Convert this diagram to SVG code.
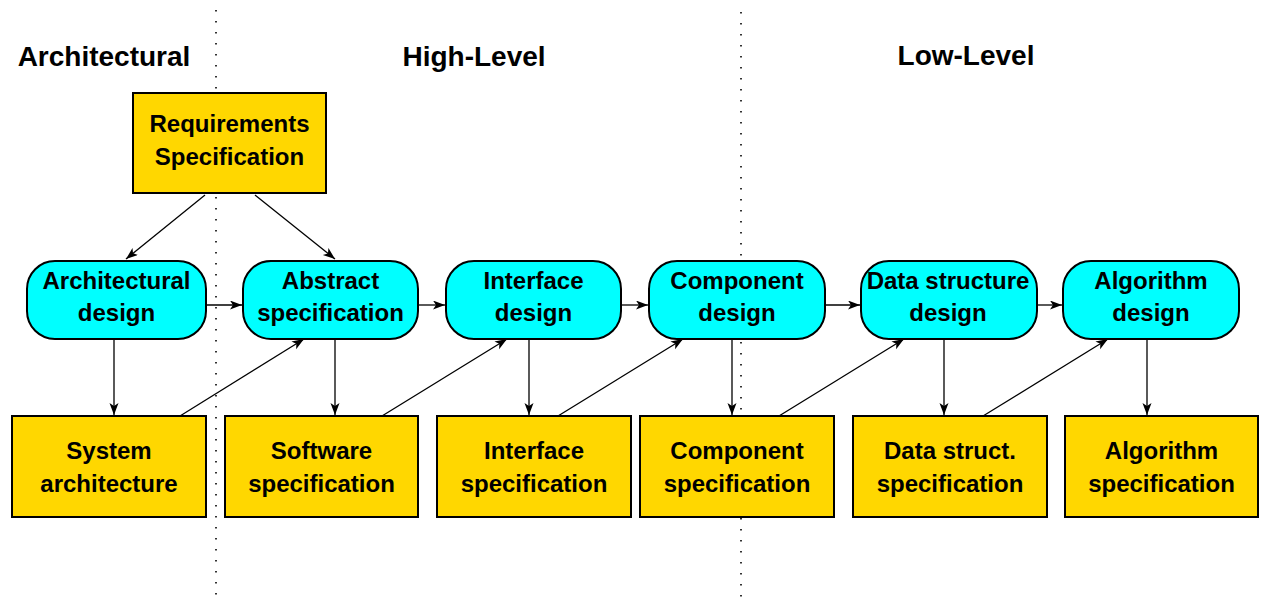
<svg xmlns="http://www.w3.org/2000/svg" width="1264" height="602" viewBox="0 0 1264 602">
<style>
text{font-family:"Liberation Sans",Arial,Helvetica,sans-serif;font-weight:bold;fill:#000;text-anchor:middle}
.hdr{font-size:28px}
.lbl{font-size:24px}
.spec{fill:#FFD700;stroke:#000;stroke-width:2}
.act{fill:#00FFFF;stroke:#000;stroke-width:2}
.div{stroke:#000;stroke-width:1.6;stroke-dasharray:1.6 9.4;fill:none}
.conn line{stroke:#000;stroke-width:1.3;marker-end:url(#ah)}
</style>
<defs>
<marker id="ah" markerUnits="userSpaceOnUse" markerWidth="14" markerHeight="10" refX="12" refY="4.5" orient="auto">
<path d="M0,0 L12,4.5 L0,9 L3,4.5 Z" fill="#000"/>
</marker>
</defs>
<rect width="1264" height="602" fill="#fff"/>
<g id="dividers">
<line class="div" x1="216" y1="10" x2="216" y2="602"/>
<line class="div" x1="741" y1="12" x2="741" y2="602"/>
</g>
<g id="headers">
<text class="hdr" x="104" y="66">Architectural</text>
<text class="hdr" x="474" y="66">High-Level</text>
<text class="hdr" x="966" y="65">Low-Level</text>
</g>
<g class="conn" id="connectors">
<line x1="205" y1="195" x2="126" y2="259"/>
<line x1="255" y1="195" x2="335" y2="259"/>
<line x1="206" y1="305" x2="242" y2="305"/>
<line x1="418" y1="305" x2="445" y2="305"/>
<line x1="621" y1="305" x2="648" y2="305"/>
<line x1="825" y1="305" x2="860" y2="305"/>
<line x1="1037" y1="305" x2="1062" y2="305"/>
<line x1="114" y1="339" x2="114" y2="415"/>
<line x1="335" y1="339" x2="335" y2="415"/>
<line x1="529" y1="339" x2="529" y2="415"/>
<line x1="732" y1="339" x2="732" y2="415"/>
<line x1="944" y1="339" x2="944" y2="415"/>
<line x1="1147" y1="339" x2="1147" y2="415"/>
<line x1="180" y1="416" x2="304" y2="339"/>
<line x1="382" y1="416" x2="507" y2="339"/>
<line x1="558" y1="416" x2="683" y2="339"/>
<line x1="779" y1="416" x2="904" y2="339"/>
<line x1="983" y1="416" x2="1108" y2="339"/>
</g>
<g id="req">
<rect class="spec" x="133" y="93" width="193" height="100"/>
<text class="lbl" x="229.5" y="132">Requirements</text>
<text class="lbl" x="229.5" y="165">Specification</text>
</g>
<g id="archDesign">
<rect class="act" x="27" y="261" width="179" height="78" rx="28" ry="28"/>
<text class="lbl" x="116.5" y="289">Architectural</text>
<text class="lbl" x="116.5" y="321">design</text>
</g>
<g id="abstractSpec">
<rect class="act" x="243" y="261" width="175" height="78" rx="28" ry="28"/>
<text class="lbl" x="330.5" y="289">Abstract</text>
<text class="lbl" x="330.5" y="321">specification</text>
</g>
<g id="interfaceDesign">
<rect class="act" x="446" y="261" width="175" height="78" rx="28" ry="28"/>
<text class="lbl" x="533.5" y="289">Interface</text>
<text class="lbl" x="533.5" y="321">design</text>
</g>
<g id="componentDesign">
<rect class="act" x="649" y="261" width="176" height="78" rx="28" ry="28"/>
<text class="lbl" x="737" y="289">Component</text>
<text class="lbl" x="737" y="321">design</text>
</g>
<g id="dataStructDesign">
<rect class="act" x="861" y="261" width="176" height="78" rx="28" ry="28"/>
<text class="lbl" x="948" y="289">Data structure</text>
<text class="lbl" x="948" y="321">design</text>
</g>
<g id="algorithmDesign">
<rect class="act" x="1063" y="261" width="176" height="78" rx="28" ry="28"/>
<text class="lbl" x="1151" y="289">Algorithm</text>
<text class="lbl" x="1151" y="321">design</text>
</g>
<g id="systemArch">
<rect class="spec" x="12" y="416" width="194" height="101"/>
<text class="lbl" x="109" y="459">System</text>
<text class="lbl" x="109" y="492">architecture</text>
</g>
<g id="softwareSpec">
<rect class="spec" x="225" y="416" width="193" height="101"/>
<text class="lbl" x="321.5" y="459">Software</text>
<text class="lbl" x="321.5" y="492">specification</text>
</g>
<g id="interfaceSpec">
<rect class="spec" x="437" y="416" width="194" height="101"/>
<text class="lbl" x="534" y="459">Interface</text>
<text class="lbl" x="534" y="492">specification</text>
</g>
<g id="componentSpec">
<rect class="spec" x="640" y="416" width="194" height="101"/>
<text class="lbl" x="737" y="459">Component</text>
<text class="lbl" x="737" y="492">specification</text>
</g>
<g id="dataStructSpec">
<rect class="spec" x="853" y="416" width="194" height="101"/>
<text class="lbl" x="950" y="459">Data struct.</text>
<text class="lbl" x="950" y="492">specification</text>
</g>
<g id="algorithmSpec">
<rect class="spec" x="1065" y="416" width="193" height="101"/>
<text class="lbl" x="1161.5" y="459">Algorithm</text>
<text class="lbl" x="1161.5" y="492">specification</text>
</g>
</svg>
